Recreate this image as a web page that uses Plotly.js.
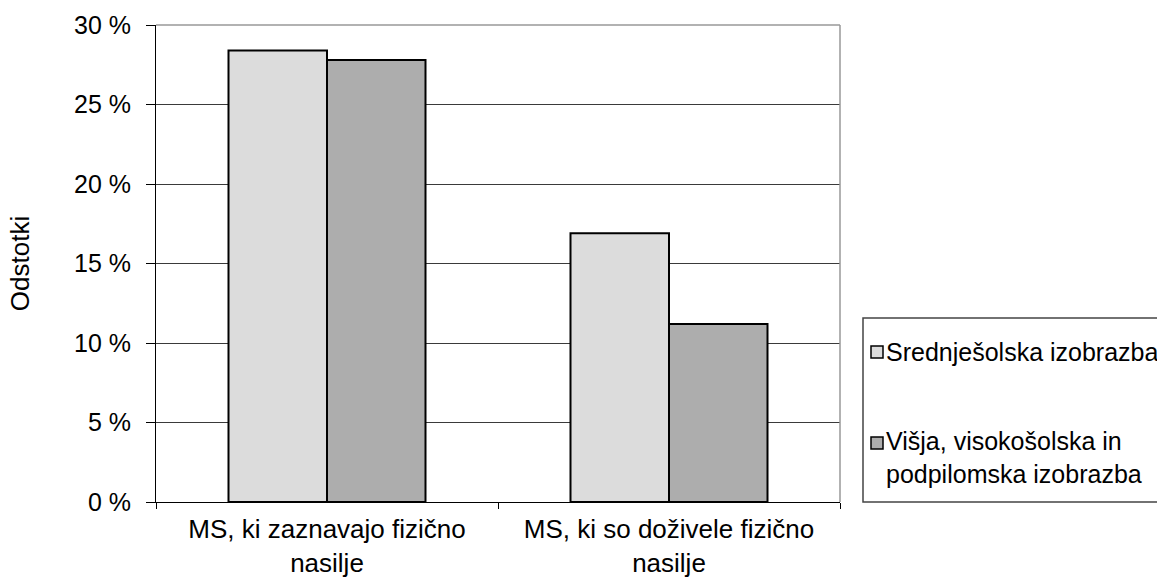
<!DOCTYPE html>
<html>
<head>
<meta charset="utf-8">
<script src="https://cdn.plot.ly/plotly-3.0.1.min.js"></script>
<style>html,body{margin:0;padding:0;background:#fff;}#chart{width:1157px;height:577px;}</style>
</head>
<body>
<div id="chart"></div>
<script>
var categories = ["MS, ki zaznavajo fizično<br>nasilje", "MS, ki so doživele fizično<br>nasilje"];
var seriesNames = ["Srednješolska izobrazba", "Višja, visokošolska in<br>podpilomska izobrazba"];
var valuesSrednje = [28.4, 16.9];
var valuesVisja = [27.8, 11.2];
var seriesColors = ["#dcdcdc", "#adadad"];
var yTickVals = [0, 5, 10, 15, 20, 25, 30];
var yTickText = ["0 %", "5 %", "10 %", "15 %", "20 %", "25 %", "30 %"];
var yTitle = "Odstotki";

var font = "Liberation Sans, Arial, sans-serif";
var traces = [
  {type: "bar", x: categories, y: valuesSrednje, name: seriesNames[0],
   marker: {color: seriesColors[0], line: {color: "#000", width: 2}}},
  {type: "bar", x: categories, y: valuesVisja, name: seriesNames[1],
   marker: {color: seriesColors[1], line: {color: "#000", width: 2}}}
];

// pixel -> paper helpers (plot area 156..840 x 25..502)
function px(x){ return (x - 156) / 684; }
function py(y){ return (502 - y) / 477; }

var layout = {
  width: 1157, height: 577,
  margin: {l: 156, r: 317, t: 25, b: 75},
  paper_bgcolor: "#fff", plot_bgcolor: "#fff",
  showlegend: false,
  barmode: "group", bargap: 0.424, bargroupgap: 0,
  font: {family: font, color: "#000"},
  xaxis: {
    showline: true, linecolor: "#000", linewidth: 1,
    ticks: "outside", ticklen: 6, tickcolor: "#000", tickson: "boundaries",
    tickfont: {size: 26, family: font, color: "#000"},
    ticklabelstandoff: 4,
    showgrid: false, zeroline: false, automargin: false
  },
  yaxis: {
    range: [0, 30], tickvals: yTickVals, ticktext: yTickText,
    showline: true, linecolor: "#000", linewidth: 1,
    ticks: "outside", ticklen: 9, tickcolor: "#000",
    tickfont: {size: 25, family: font, color: "#000"},
    ticklabelstandoff: 10,
    showgrid: true, gridcolor: "#3a3a3a", gridwidth: 1, zeroline: false,
    automargin: false,
    title: {text: yTitle, font: {size: 26, family: font, color: "#000"}, standoff: 36}
  },
  shapes: [
    {type: "line", xref: "paper", yref: "paper", x0: 0, x1: 1, y0: 1, y1: 1, line: {color: "#999", width: 1.5}},
    {type: "line", xref: "paper", yref: "paper", x0: 1, x1: 1, y0: 0, y1: 1, line: {color: "#999", width: 1.5}},
    {type: "rect", xref: "paper", yref: "paper", x0: px(863), x1: px(1170), y0: py(502), y1: py(318), line: {color: "#444", width: 1.5}, fillcolor: "rgba(0,0,0,0)"},
    {type: "rect", xref: "paper", yref: "paper", x0: px(871), x1: px(883), y0: py(358), y1: py(346), line: {color: "#000", width: 1.5}, fillcolor: seriesColors[0]},
    {type: "rect", xref: "paper", yref: "paper", x0: px(871), x1: px(883), y0: py(449), y1: py(437), line: {color: "#000", width: 1.5}, fillcolor: seriesColors[1]}
  ],
  annotations: [
    {xref: "paper", yref: "paper", x: px(884), y: py(352), xanchor: "left", yanchor: "middle", align: "left", showarrow: false,
     text: seriesNames[0], font: {size: 25, family: font, color: "#000"}},
    {xref: "paper", yref: "paper", x: px(884), y: py(457), xanchor: "left", yanchor: "middle", align: "left", showarrow: false,
     text: seriesNames[1], font: {size: 25, family: font, color: "#000"}}
  ]
};
Plotly.newPlot("chart", traces, layout, {displayModeBar: false, staticPlot: true});
</script>
</body>
</html>
